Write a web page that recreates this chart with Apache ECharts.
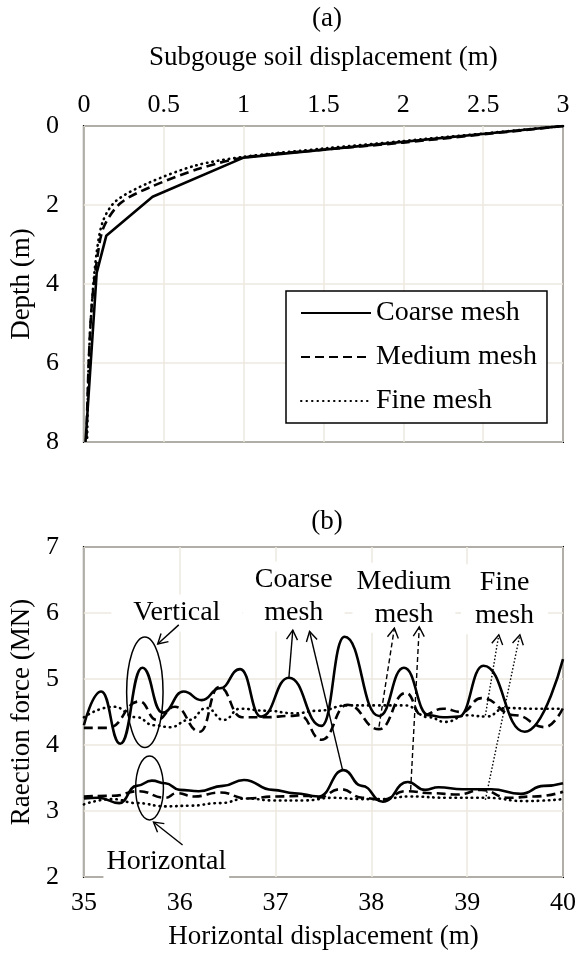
<!DOCTYPE html>
<html><head><meta charset="utf-8">
<script src="https://cdn.jsdelivr.net/npm/echarts@6/dist/echarts.min.js"></script>
<style>html,body{margin:0;padding:0;background:#fff}#c{width:579px;height:957px}</style>
</head><body><div id="c"></div>
<script>
const FONT = '"Liberation Serif","Times New Roman",serif';
const FS_TICK = 26, FS_NAME = 27, FS_ANN = 28, FS_LEG = 28;

// ---------- (a) Subgouge soil displacement vs depth: [displacement, depth]
const subgougeCoarse = [[3,0],[1.0,0.8],[0.43,1.79],[0.14,2.78],[0.08,3.72],[0.01,8]];
const subgougeMedium = [[3,0],[2,0.42],[1.5,0.6],[1.0,0.8],[0.73,1.07],[0.42,1.54],[0.23,1.95],[0.125,2.55],[0.085,3.3],[0.05,4.5],[0.03,6],[0.015,8]];
const subgougeFine   = [[3,0],[2,0.38],[1.5,0.57],[1.0,0.78],[0.7,1.0],[0.4,1.45],[0.2,1.9],[0.12,2.4],[0.08,3.2],[0.05,4.5],[0.03,6],[0.02,8]];
const meshNames = ['Coarse mesh','Medium mesh','Fine mesh'];

// ---------- (b) Reaction force vs horizontal displacement: [x, MN]
const vertCoarse = [[35.0,4.30],[35.18,4.81],[35.38,4.02],[35.61,5.17],[35.82,4.49],[36.04,4.81],[36.23,4.68],[36.42,4.86],[36.63,5.15],[36.85,4.43],[37.14,5.02],[37.48,4.29],[37.72,5.64],[38.08,4.44],[38.34,5.17],[38.60,4.45],[38.75,4.42],[38.91,4.43],[39.17,5.20],[39.60,4.20],[40.0,5.30]];
const vertMedium = [[35.0,4.26],[35.25,4.26],[35.58,4.66],[35.76,4.38],[35.95,4.58],[36.21,4.20],[36.41,4.88],[36.65,4.42],[36.9,4.42],[37.15,4.44],[37.25,4.45],[37.48,4.08],[37.75,4.61],[38.08,4.24],[38.36,4.79],[38.53,4.45],[38.75,4.55],[38.94,4.50],[39.15,4.71],[39.5,4.45],[39.81,4.27],[40.0,4.56]];
const vertFine   = [[35.0,4.42],[35.31,4.58],[35.55,4.42],[35.73,4.30],[35.9,4.27],[36.1,4.38],[36.28,4.56],[36.46,4.38],[36.63,4.55],[36.9,4.52],[37.2,4.48],[37.45,4.52],[37.75,4.60],[38.05,4.60],[38.35,4.60],[38.6,4.42],[38.77,4.35],[39.0,4.45],[39.2,4.43],[39.4,4.56],[39.7,4.55],[40.0,4.55]];
const horCoarse  = [[35.0,3.19],[35.15,3.20],[35.37,3.12],[35.55,3.38],[35.71,3.46],[35.85,3.42],[36.0,3.32],[36.2,3.30],[36.45,3.38],[36.67,3.47],[36.97,3.32],[37.2,3.27],[37.45,3.22],[37.71,3.62],[37.9,3.38],[38.12,3.14],[38.38,3.44],[38.56,3.32],[38.7,3.36],[38.95,3.33],[39.25,3.33],[39.56,3.26],[39.8,3.38],[40.0,3.42]];
const horMedium  = [[35.0,3.22],[35.3,3.23],[35.57,3.30],[35.85,3.20],[35.97,3.27],[36.15,3.22],[36.42,3.28],[36.7,3.19],[37.0,3.22],[37.32,3.23],[37.44,3.20],[37.68,3.33],[37.91,3.20],[38.11,3.17],[38.36,3.30],[38.63,3.27],[38.9,3.25],[39.15,3.32],[39.43,3.20],[39.7,3.22],[40.0,3.29]];
const horFine    = [[35.0,3.10],[35.3,3.18],[35.55,3.12],[35.85,3.07],[36.1,3.08],[36.42,3.12],[36.7,3.19],[36.97,3.16],[37.3,3.16],[37.6,3.20],[37.9,3.18],[38.1,3.18],[38.4,3.22],[38.8,3.20],[39.2,3.20],[39.6,3.15],[40.0,3.18]];

// annotation anchors (data coordinates of panel b)
const labelVertical = {text:'Vertical', at:[35.97,6.0]};
const labelHorizontal = {text:'Horizontal', at:[35.86,2.23]};
const labelCoarse = {text:'Coarse\nmesh', at:[37.19,6.25]};
const labelMedium = {text:'Medium\nmesh', at:[38.34,6.23]};
const labelFine = {text:'Fine\nmesh', at:[39.39,6.21]};
const ellipseVertical = {c:[35.636,4.80], r:[0.19,0.838]};
const ellipseHorizontal = {c:[35.685,3.35], r:[0.145,0.485]};
const arrowsSolid = [[[35.99,5.82],[35.77,5.53]],[[36.03,2.485],[35.726,2.833]],[[37.14,5.03],[37.18,5.74]],[[37.70,3.62],[37.355,5.72]]];
const arrowsDashed = [[[38.08,4.28],[38.24,5.77]],[[38.41,3.32],[38.50,5.79]]];
const arrowsDotted = [[[39.19,4.45],[39.33,5.67]],[[39.19,3.17],[39.55,5.67]]];

const GRID_COLOR = '#ECE9DF';
const tickTxt = {fontFamily: FONT, fontSize: FS_TICK, color: '#000'};
const nameTxt = {fontFamily: FONT, fontSize: FS_NAME, color: '#000'};
const solid = {color:'#000', width:2.6, type:'solid'};
const dashed = {color:'#000', width:2.6, type:[9,5]};
const dotted = {color:'#000', width:2.6, type:[0.5,5], cap:'round'};

const chart = echarts.init(document.getElementById('c'), null, {renderer:'canvas'});

function lineSeries(name, data, ls, xi, smooth) {
  return {name, type:'line', data, xAxisIndex:xi, yAxisIndex:xi, showSymbol:false, symbol:'none',
    smooth: smooth, smoothMonotone: xi===1 ? 'x' : undefined, lineStyle: ls, itemStyle:{color:'#000'}, animation:false, z:3};
}

const option = {
  animation:false,
  backgroundColor:'#fff',
  grid:[
    {left:83, right:16, top:126, height:316, show:true, borderColor:'#000', borderWidth:2, backgroundColor:'transparent'},
    {left:83, right:14, top:547, height:330, show:true, borderColor:'#000', borderWidth:2, backgroundColor:'transparent'}
  ],
  legend:{
    data: meshNames, orient:'vertical', left:286, top:291,
    backgroundColor:'#fff', borderColor:'#000', borderWidth:1.5,
    padding:[8,10,8,14], itemGap:16, itemWidth:70, itemHeight:2,
    itemStyle:{color:'rgba(0,0,0,0)', borderColor:'rgba(0,0,0,0)', borderWidth:0},
    textStyle:{fontFamily:FONT, fontSize:FS_LEG, color:'#000'},
    selectedMode:false
  },
  xAxis:[
    {type:'value', gridIndex:0, position:'top', min:0, max:3, interval:0.5,
     name:'Subgouge soil displacement (m)', nameLocation:'middle', nameGap:55, nameTextStyle:nameTxt,
     axisLabel:Object.assign({margin:8}, tickTxt), axisLine:{show:false}, axisTick:{show:false},
     splitLine:{show:true, lineStyle:{color:GRID_COLOR, width:1.5}}},
    {type:'value', gridIndex:1, min:35, max:40, interval:1,
     name:'Horizontal displacement (m)', nameLocation:'middle', nameGap:46, nameTextStyle:nameTxt,
     axisLabel:Object.assign({margin:13}, tickTxt), axisLine:{show:false}, axisTick:{show:false},
     splitLine:{show:true, lineStyle:{color:GRID_COLOR, width:1.5}}}
  ],
  yAxis:[
    {type:'value', gridIndex:0, inverse:true, min:0, max:8, interval:2,
     name:'Depth (m)', nameLocation:'middle', nameGap:41, nameTextStyle:nameTxt,
     axisLabel:Object.assign({margin:25}, tickTxt), axisLine:{show:false}, axisTick:{show:false},
     splitLine:{show:true, lineStyle:{color:GRID_COLOR, width:1.5}}},
    {type:'value', gridIndex:1, min:2, max:7, interval:1,
     name:'Raection force (MN)', nameLocation:'middle', nameGap:41, nameTextStyle:nameTxt,
     axisLabel:Object.assign({margin:25}, tickTxt), axisLine:{show:false}, axisTick:{show:false},
     splitLine:{show:true, lineStyle:{color:GRID_COLOR, width:1.5}}}
  ],
  series:[
    lineSeries(meshNames[0], subgougeCoarse, solid, 0, false),
    lineSeries(meshNames[1], subgougeMedium, dashed, 0, 0.3),
    lineSeries(meshNames[2], subgougeFine, dotted, 0, 0.3),
    lineSeries('Vertical coarse', vertCoarse, solid, 1, 0.5),
    lineSeries('Vertical medium', vertMedium, dashed, 1, 0.5),
    lineSeries('Vertical fine', vertFine, dotted, 1, 0.5),
    lineSeries('Horizontal coarse', horCoarse, solid, 1, 0.5),
    lineSeries('Horizontal medium', horMedium, dashed, 1, 0.5),
    lineSeries('Horizontal fine', horFine, dotted, 1, 0.5)
  ]
};
chart.setOption(option);

const P = (pt) => chart.convertToPixel({xAxisIndex:1, yAxisIndex:1}, pt);
const g = [];
g.push({type:'text', x:327, y:19, z:5, style:{text:'(a)', font:FS_NAME+'px '+FONT, fill:'#000', align:'center', verticalAlign:'middle'}});
g.push({type:'text', x:327, y:522, z:5, style:{text:'(b)', font:FS_NAME+'px '+FONT, fill:'#000', align:'center', verticalAlign:'middle'}});

function label(l, padH) {
  const p = P(l.at);
  g.push({type:'text', x:p[0], y:p[1], z:1, style:{text:l.text, font:FS_ANN+'px '+FONT, fill:'#000', align:'center', verticalAlign:'middle',
    lineHeight:33, backgroundColor:'#fff', padding:[2,padH,2,padH]}});
}
label(labelVertical, 22);
label(labelHorizontal, 3);
label(labelCoarse, 12);
label(labelMedium, 4);
label(labelFine, 14);

function ellipse(e) {
  const c = P(e.c), r1 = P([e.c[0]+e.r[0], e.c[1]+e.r[1]]);
  g.push({type:'ellipse', z:4, shape:{cx:c[0], cy:c[1], rx:Math.abs(r1[0]-c[0]), ry:Math.abs(r1[1]-c[1])},
    style:{fill:null, stroke:'#000', lineWidth:1.5}});
}
ellipse(ellipseVertical);
ellipse(ellipseHorizontal);

function arrow(a, b, dash) {
  const p0 = P(a), p1 = P(b);
  const ang = Math.atan2(p1[1]-p0[1], p1[0]-p0[0]);
  const L = 11, w = Math.PI/6;
  const h1 = [p1[0]-L*Math.cos(ang-w), p1[1]-L*Math.sin(ang-w)];
  const h2 = [p1[0]-L*Math.cos(ang+w), p1[1]-L*Math.sin(ang+w)];
  g.push({type:'line', z:4, shape:{x1:p0[0], y1:p0[1], x2:p1[0], y2:p1[1]}, style:{stroke:'#000', lineWidth:1.4, lineDash:dash}});
  g.push({type:'polyline', z:4, shape:{points:[h1, p1, h2]}, style:{stroke:'#000', fill:null, lineWidth:1.4}});
}
arrowsSolid.forEach(a => arrow(a[0], a[1], null));
arrowsDashed.forEach(a => arrow(a[0], a[1], [5,3]));
arrowsDotted.forEach(a => arrow(a[0], a[1], [1.5,2]));

chart.setOption({graphic: g});
</script></body></html>
